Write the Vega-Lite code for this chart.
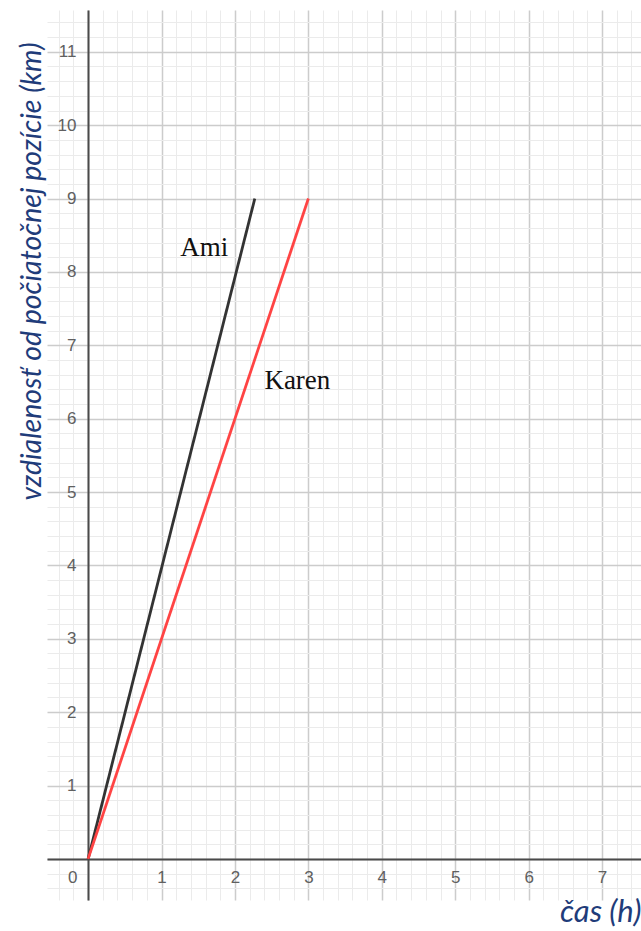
{
  "$schema": "https://vega.github.io/schema/vega-lite/v6.json",
  "width": 594,
  "height": 890,
  "autosize": {"type": "none"},
  "padding": {"left": 47, "top": 10, "right": 0, "bottom": 31},
  "background": "white",
  "config": {"view": {"stroke": null}},
  "encoding": {
    "x": {
      "field": "t",
      "type": "quantitative",
      "scale": {"domain": [-0.56, 7.53], "nice": false, "zero": false},
      "axis": {
        "orient": "bottom",
        "offset": -41,
        "values": [-0.4,-0.2,0,0.2,0.4,0.6,0.8,1,1.2,1.4,1.6,1.8,2,2.2,2.4,2.6,2.8,3,3.2,3.4,3.6,3.8,4,4.2,4.4,4.6,4.8,5,5.2,5.4,5.6,5.8,6,6.2,6.4,6.6,6.8,7,7.2,7.4],
        "labelExpr": "abs(datum.value - round(datum.value)) < 0.001 ? format(datum.value, 'd') : ''",
        "labelOffset": {"condition": {"test": "datum.value == 0", "value": -16}, "value": 0},
        "labelOverlap": false,
        "labelFlush": false,
        "labelPadding": 10,
        "labelFont": "Liberation Sans",
        "labelFontSize": 17,
        "labelColor": "#606060",
        "ticks": false,
        "domain": true,
        "domainColor": "#4a4a4a",
        "domainWidth": 2,
        "grid": true,
        "gridColor": {"condition": {"test": "abs(datum.value - round(datum.value)) < 0.001", "value": "#cccccc"}, "value": "#ebebeb"},
        "gridWidth": {"condition": {"test": "abs(datum.value - round(datum.value)) < 0.001", "value": 1.5}, "value": 1},
        "title": "čas (h)",
        "titleFont": "Lato",
        "titleFontStyle": "italic",
        "titleFontWeight": "normal",
        "titleFontSize": 31,
        "titleColor": "#1f3c7a",
        "titleX": 594,
        "titleY": 62,
        "titleAlign": "right",
        "titleAnchor": "end",
        "titleBaseline": "alphabetic"
      }
    },
    "y": {
      "field": "d",
      "type": "quantitative",
      "scale": {"domain": [-0.56, 11.57], "nice": false, "zero": false},
      "axis": {
        "orient": "left",
        "offset": -41,
        "values": [-0.4,-0.2,0,0.2,0.4,0.6,0.8,1,1.2,1.4,1.6,1.8,2,2.2,2.4,2.6,2.8,3,3.2,3.4,3.6,3.8,4,4.2,4.4,4.6,4.8,5,5.2,5.4,5.6,5.8,6,6.2,6.4,6.6,6.8,7,7.2,7.4,7.6,7.8,8,8.2,8.4,8.6,8.8,9,9.2,9.4,9.6,9.8,10,10.2,10.4,10.6,10.8,11,11.2,11.4],
        "labelExpr": "abs(datum.value - round(datum.value)) < 0.001 && datum.value != 0 ? format(datum.value, 'd') : ''",
        "labelOverlap": false,
        "labelFlush": false,
        "labelPadding": 12,
        "labelFont": "Liberation Sans",
        "labelFontSize": 17,
        "labelColor": "#606060",
        "ticks": false,
        "domain": true,
        "domainColor": "#4a4a4a",
        "domainWidth": 2,
        "grid": true,
        "gridColor": {"condition": {"test": "abs(datum.value - round(datum.value)) < 0.001", "value": "#cccccc"}, "value": "#ebebeb"},
        "gridWidth": {"condition": {"test": "abs(datum.value - round(datum.value)) < 0.001", "value": 1.5}, "value": 1},
        "title": "vzdialenosť od počiatočnej pozície (km)",
        "titleFont": "Lato",
        "titleFontStyle": "italic",
        "titleFontWeight": "normal",
        "titleFontSize": 28.5,
        "titleColor": "#1f3c7a",
        "titleAngle": 270,
        "titleX": -48,
        "titleY": 261,
        "titleAlign": "center",
        "titleBaseline": "alphabetic"
      }
    }
  },
  "layer": [
    {
      "data": {"values": [
        {"person": "Ami", "t": 0, "d": 0},
        {"person": "Ami", "t": 2.27, "d": 9},
        {"person": "Karen", "t": 0, "d": 0},
        {"person": "Karen", "t": 3, "d": 9}
      ]},
      "mark": {"type": "line", "strokeWidth": 2.8},
      "encoding": {
        "color": {"field": "person", "type": "nominal", "scale": {"domain": ["Ami", "Karen"], "range": ["#333333", "#ff4444"]}, "legend": null}
      }
    },
    {
      "data": {"values": [
        {"person": "Ami", "t": 1.58, "d": 8.22},
        {"person": "Karen", "t": 2.85, "d": 6.4}
      ]},
      "mark": {"type": "text", "font": "Liberation Serif", "fontSize": 27, "color": "#111111", "align": "center", "baseline": "alphabetic"},
      "encoding": {
        "text": {"field": "person", "type": "nominal"}
      }
    }
  ]
}
